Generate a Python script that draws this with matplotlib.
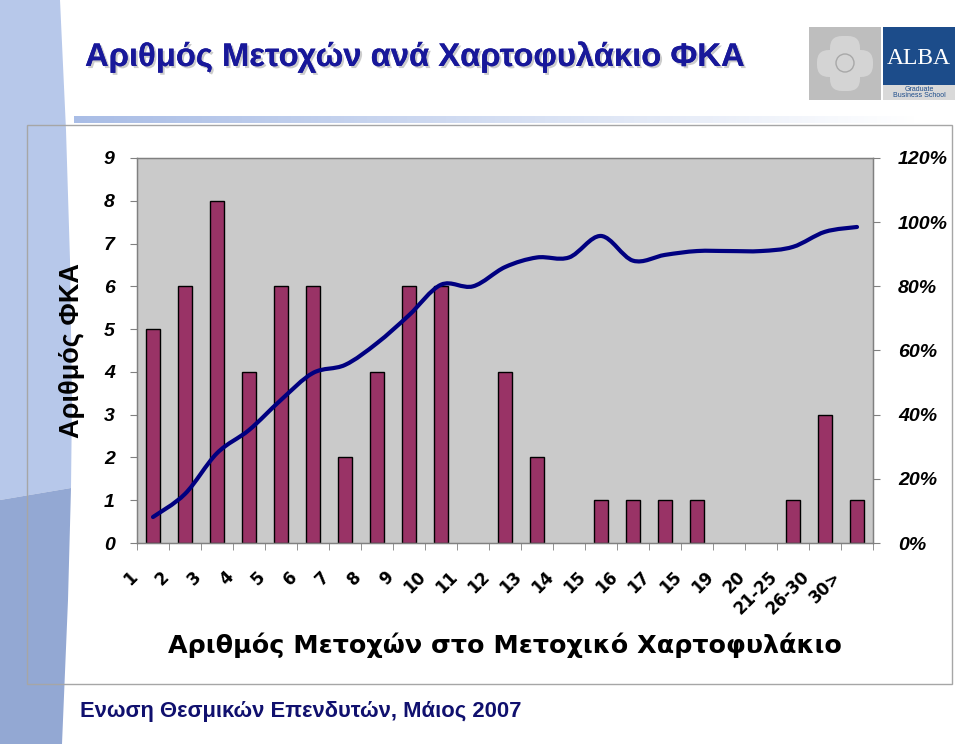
import numpy as np
import matplotlib
matplotlib.use('Agg')
import matplotlib.pyplot as plt
import matplotlib.patches as mpatches
import matplotlib.patheffects as pe
from matplotlib.path import Path
from matplotlib.transforms import ScaledTranslation

# Data
categories = ['1', '2', '3', '4', '5', '6', '7', '8', '9', '10', '11', '12', '13',
              '14', '15', '16', '17', '15', '19', '20', '21-25', '26-30', '30>']
counts = [5, 6, 8, 4, 6, 6, 2, 4, 6, 6, 0, 4, 2, 0, 1, 1, 1, 1, 0, 0, 1, 3, 1]
cumulative_pct = [8.1, 15.3, 28, 35.2, 44.6, 53, 55.5, 62.3, 71, 80.5, 80, 86, 89,
                  89, 95.7, 88, 89.8, 91, 91, 91, 92.3, 97, 98.5]
pct_ticks = [0, 20, 40, 60, 80, 100, 120]

title = 'Αριθμός Μετοχών ανά Χαρτοφυλάκιο ΦΚΑ'
x_label = 'Αριθμός Μετοχών στο Μετοχικό Χαρτοφυλάκιο'
y_label = 'Αριθμός ΦΚΑ'
footer = 'Ενωση Θεσμικών Επενδυτών, Μάιος 2007'

W, H = 960, 744
fig = plt.figure(figsize=(W / 100, H / 100), dpi=100)
fig.patch.set_facecolor('white')

# --- slide background (pixel coordinates) ---
bg = fig.add_axes([0, 0, 1, 1], zorder=-5)
bg.axis('off')

light = [(0, 0), (60, 0), (66, 130), (70, 260), (72, 400), (71, 488), (0, 500)]
dark = [(0, 500), (71, 488), (68, 600), (62, 744), (0, 744)]
bg.add_patch(mpatches.Polygon(light, closed=True, fc='#B7C8EA', ec='none'))
bg.add_patch(mpatches.Polygon(dark, closed=True, fc='#93A8D3', ec='none'))

# gradient bar under the title
grad = np.linspace(0, 1, 256).reshape(1, -1)
cmap = matplotlib.colors.LinearSegmentedColormap.from_list('g', ['#A9BDE6', '#FFFFFF'])
bg.imshow(grad, cmap=cmap, extent=(74, 917, 123, 116), aspect='auto', zorder=1)
bg.set_xlim(0, W)
bg.set_ylim(H, 0)

# chart frame
bg.add_patch(mpatches.Rectangle((27, 125), 925, 559, fc='none', ec='#A6A6A6', lw=1))

# logo
bg.add_patch(mpatches.Rectangle((809, 27), 72, 73, fc='#BEBEBE', ec='none'))
bg.add_patch(mpatches.FancyBboxPatch((830, 36), 30, 55, boxstyle='round,pad=0,rounding_size=12',
                                     fc='#D4D4D4', ec='none'))
bg.add_patch(mpatches.FancyBboxPatch((817, 50), 56, 27, boxstyle='round,pad=0,rounding_size=12',
                                     fc='#D4D4D4', ec='none'))
bg.add_patch(mpatches.Circle((845, 63), 9, fc='none', ec='#A8A8A8', lw=1))
bg.add_patch(mpatches.Rectangle((883, 27), 72, 58, fc='#1C4C8A', ec='none'))
bg.add_patch(mpatches.Rectangle((883, 85), 72, 15, fc='#D9D9D9', ec='none'))
bg.text(919, 58, 'ALBA', family='Liberation Serif', fontsize=17, color='white',
        ha='center', va='center')
bg.text(919, 92.5, 'Graduate\nBusiness School', family='Liberation Sans', fontsize=5,
        color='#1C4C8A', ha='center', va='center', linespacing=0.95)

# title and footer
bg.text(85, 57, title, family='Liberation Sans', weight='bold', fontsize=23.6,
        color='#18189A', ha='left', va='center',
        path_effects=[pe.withSimplePatchShadow(offset=(1.5, -1.5), shadow_rgbFace='#9A9A9A',
                                               alpha=0.5), pe.Normal()])
bg.text(80, 712, footer, family='Liberation Sans', weight='bold', fontsize=15.8,
        color='#10106E', ha='left', va='center')

# --- chart ---
left, right, top, bottom = 137, 873, 158, 543
ax = fig.add_axes([left / W, 1 - bottom / H, (right - left) / W, (bottom - top) / H], zorder=1)
ax.set_facecolor('#CACACA')

x = np.arange(len(categories))
edges = ['black' if c > 0 else 'none' for c in counts]
ax.bar(x, counts, width=0.44, color='#993366', edgecolor=edges, linewidth=1, zorder=2)
ax.set_xlim(-0.5, len(categories) - 0.5)
ax.set_ylim(0, 9)
ax.set_yticks(range(0, 10))

ax.set_xticks(x)
ax.set_xticklabels(categories, rotation=45, ha='right', va='top',
                   family='DejaVu Sans', weight='bold', fontsize=12)
ax.set_xticks(np.arange(-0.5, len(categories)), minor=True)
ax.tick_params(axis='x', which='major', length=0, pad=18)
ax.tick_params(axis='x', which='minor', length=5, color='#808080', direction='out')
shift = ScaledTranslation(-12 / 100, 0, fig.dpi_scale_trans)
for lab in ax.get_xticklabels():
    lab.set_transform(lab.get_transform() + shift)

ax.tick_params(axis='y', length=5, color='#808080', direction='out', pad=11)
for lab in ax.get_yticklabels():
    lab.set_family('Liberation Sans')
    lab.set_weight('bold')
    lab.set_style('italic')
    lab.set_fontsize(14)

for sp in ax.spines.values():
    sp.set_color('#808080')
    sp.set_linewidth(1)

ax2 = ax.twinx()
ax2.set_ylim(0, 120)
ax2.set_yticks(pct_ticks)
ax2.set_yticklabels([f'{v}%' for v in pct_ticks])
ax2.tick_params(axis='y', length=5, color='#808080', direction='out', pad=13)
for lab in ax2.get_yticklabels():
    lab.set_family('Liberation Sans')
    lab.set_weight('bold')
    lab.set_style('italic')
    lab.set_fontsize(14)
for sp in ax2.spines.values():
    sp.set_color('#808080')

# smoothed cumulative line (Catmull-Rom style Bezier, as Excel smoothing)
pts = np.column_stack([x, cumulative_pct]).astype(float)
verts = [tuple(pts[0])]
codes = [Path.MOVETO]
n = len(pts)
for i in range(n - 1):
    p0 = pts[max(i - 1, 0)]
    p1 = pts[i]
    p2 = pts[i + 1]
    p3 = pts[min(i + 2, n - 1)]
    c1 = p1 + (p2 - p0) / 6
    c2 = p2 - (p3 - p1) / 6
    verts += [tuple(c1), tuple(c2), tuple(p2)]
    codes += [Path.CURVE4] * 3
ax2.add_patch(mpatches.PathPatch(Path(verts, codes), fc='none', ec='#000080', lw=3,
                                 capstyle='round', joinstyle='round', zorder=3))

fig.text((left + right) / 2 / W, 1 - 645 / H, x_label, family='DejaVu Sans', weight='bold',
         fontsize=18.3, ha='center', va='center')
fig.text(72 / W, 1 - 351 / H, y_label, family='Liberation Sans', weight='bold',
         fontsize=19.5, rotation=90, ha='center', va='center')

fig.savefig('out.png', dpi=100)
